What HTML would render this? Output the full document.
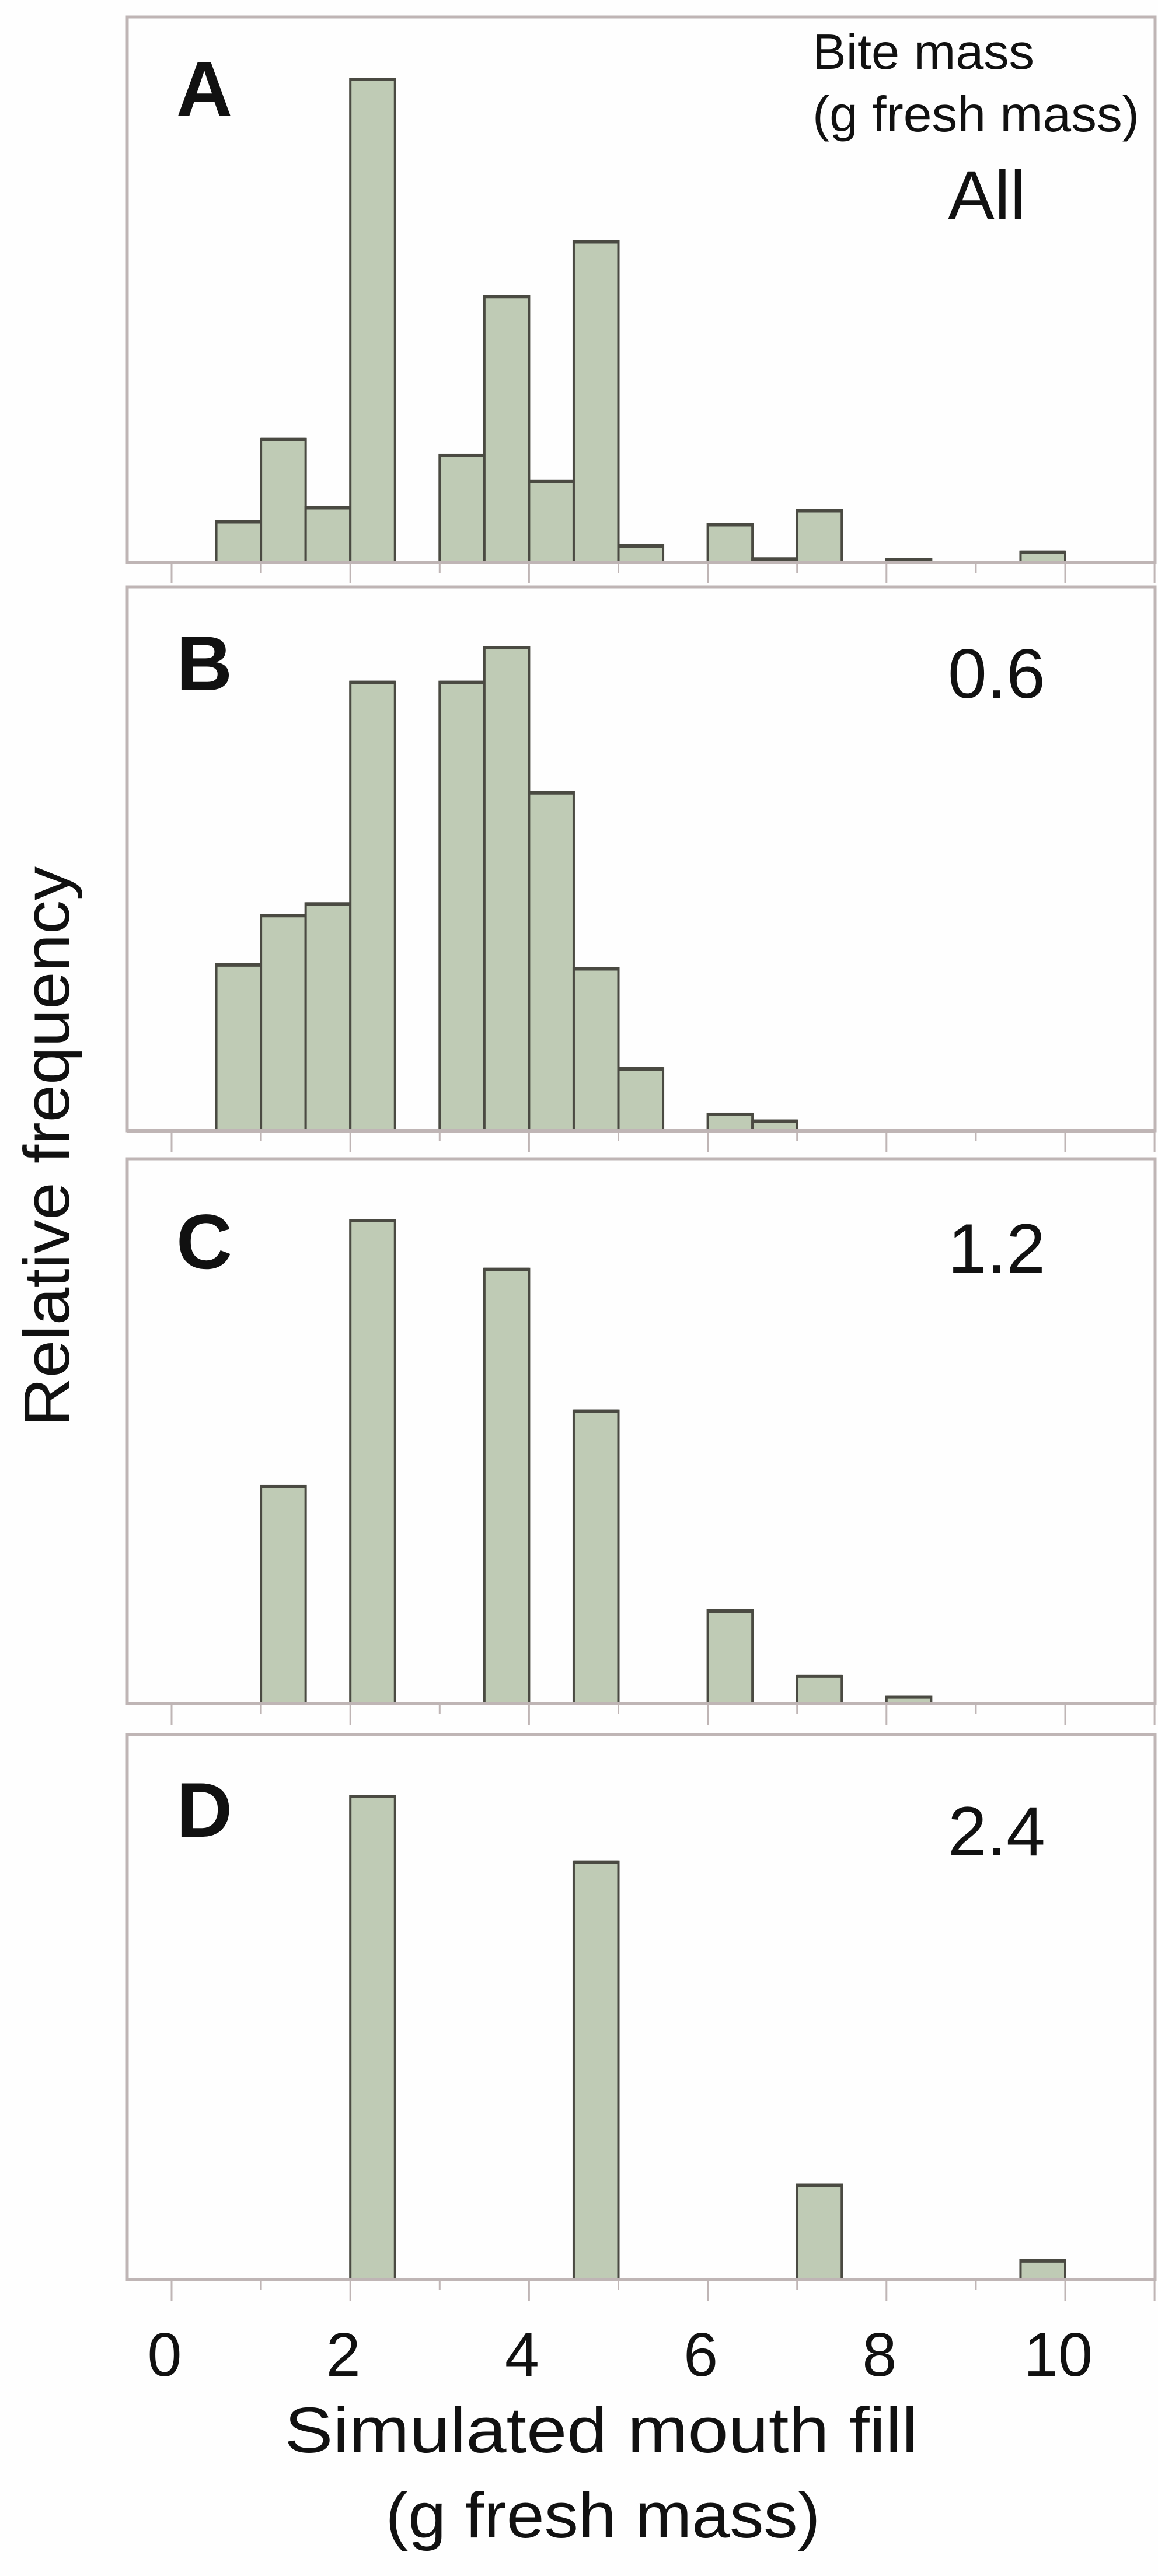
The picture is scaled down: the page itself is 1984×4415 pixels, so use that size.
<!DOCTYPE html>
<html><head><meta charset="utf-8"><style>
html,body{margin:0;padding:0;background:#fefefe;}
svg{display:block;}
text{font-family:"Liberation Sans",sans-serif;fill:#111;}
</style></head><body>
<svg id="chart" width="1984" height="4415" viewBox="0 0 1984 4415" xmlns="http://www.w3.org/2000/svg">
<rect x="0" y="0" width="1984" height="4415" fill="#fefefe"/>
<text transform="translate(118,1965) rotate(-90)" text-anchor="middle" font-size="110" textLength="960" lengthAdjust="spacingAndGlyphs">Relative frequency</text>
<text x="1030" y="4203" text-anchor="middle" font-size="110" textLength="1085" lengthAdjust="spacingAndGlyphs">Simulated mouth fill</text>
<text x="1033" y="4349" text-anchor="middle" font-size="110" textLength="745" lengthAdjust="spacingAndGlyphs">(g fresh mass)</text>
<text x="1392" y="118" font-size="85" textLength="380" lengthAdjust="spacingAndGlyphs">Bite mass</text>
<text x="1392" y="225" font-size="85" textLength="560" lengthAdjust="spacingAndGlyphs">(g fresh mass)</text>
</svg>
<script>
const binStarts = [0.5,1,1.5,2,2.5,3,3.5,4,4.5,5,5.5,6,6.5,7,7.5,8,8.5,9,9.5];
const freqA = [0.085,0.256,0.114,1.0,0,0.222,0.551,0.169,0.664,0.035,0,0.079,0.008,0.108,0,0.006,0,0,0.022];
const freqB = [0.344,0.446,0.470,0.928,0,0.928,1.0,0.70,0.336,0.129,0,0.035,0.021,0,0,0,0,0,0];
const freqC = [0,0.45,0,1.0,0,0,0.899,0,0.606,0,0,0.193,0,0.058,0,0.015,0,0,0];
const freqD = [0,0,0,1.0,0,0,0,0,0.864,0,0,0,0,0.196,0,0,0,0,0.040];
const panelLetters = ["A","B","C","D"];
const panelTags = ["All","0.6","1.2","2.4"];
const xTickLabels = ["0","2","4","6","8","10"];
const allFreqs = [freqA,freqB,freqC,freqD];

const svg = document.getElementById('chart');
const NS = 'http://www.w3.org/2000/svg';
const binWidth = 0.5;
const panels = [{top:29,base:964},{top:1006,base:1938},{top:1986,base:2920},{top:2973,base:3907}];
const xLeft = 218, xRight = 1979;
function xScale(v){ return 294 + v*153.1; }
function yScale(f, base){ return base - f*829; }
function mk(tag, attrs){ const e=document.createElementNS(NS,tag); for(const k in attrs) e.setAttribute(k,attrs[k]); svg.appendChild(e); return e; }

panels.forEach((p,i)=>{
  const frame = mk('rect',{x:xLeft,y:p.top,width:xRight-xLeft,height:p.base-p.top,fill:'none',stroke:'#bfb5b5','stroke-width':5});
  
  
  allFreqs[i].forEach((f,j)=>{
    if(f<=0) return;
    const x0 = xScale(binStarts[j]), x1 = xScale(binStarts[j]+binWidth);
    const y = yScale(f,p.base);
    const r = mk('rect',{x:x0,y:y,width:x1-x0,height:Math.max(p.base-y,3),fill:'#bfcbb5',stroke:'#4a4a42','stroke-width':4});
    
    
    const t = mk('line',{x1:x0,x2:x1,y1:y+1,y2:y+1,stroke:'#4a4a42','stroke-width':6});
    
    
  });
  const axis = mk('line',{x1:xLeft,x2:xRight,y1:p.base,y2:p.base,stroke:'#bfb5b5','stroke-width':6});
  
  
  for(let v=0; v<=11; v++){
    const major = (v%2===0) || v===11;
    const tk = mk('line',{x1:xScale(v),x2:xScale(v),y1:p.base,y2:p.base+(major?36:18),stroke:'#bfb5b5','stroke-width':3});
    
    
  }
  const L = mk('text',{x:302,y:p.top+(i===0?169:i===1?177:i===2?188:175),'font-size':133,'font-weight':'bold'});
  L.textContent = panelLetters[i];
  
  
  const T = mk('text',{x:1624,y:p.top+(i===0?347:i===1?190:i===2?195:207),'font-size':120});
  T.textContent = panelTags[i];
  
  
});
xTickLabels.forEach((lab)=>{
  const tl = mk('text',{x:xScale(+lab)-12,y:4072,'font-size':106,'text-anchor':'middle'});
  tl.textContent = lab;
  
  
});
</script>
</body></html>
